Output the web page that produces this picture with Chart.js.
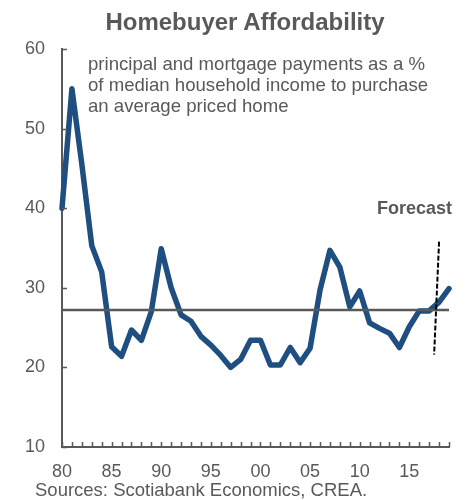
<!DOCTYPE html>
<html>
<head>
<meta charset="utf-8">
<script src="https://cdn.jsdelivr.net/npm/chart.js@4.4.0/dist/chart.umd.min.js"></script>
<style>
  body { margin: 0; background: #fff; }
  #wrap { position: relative; width: 466px; height: 500px; font-family: "Liberation Sans", Arial, sans-serif; color: #595959; }
  #wrap div { position: absolute; white-space: nowrap; }
  #title { left: 0; width: 490px; top: 10px; text-align: center; font-size: 24px; line-height: 24px; font-weight: bold; }
  #note { left: 88px; top: 53px; font-size: 18.6px; line-height: 21px; }
  #forecast { right: 14px; top: 198px; font-size: 18px; line-height: 21px; font-weight: bold; }
  #sources { left: 35px; top: 479px; font-size: 18.5px; line-height: 21px; }
</style>
</head>
<body>
<div id="wrap">
  <canvas id="myChart" width="466" height="500"></canvas>
  <div id="title">Homebuyer Affordability</div>
  <div id="note">principal and mortgage payments as a %<br>of median household income to purchase<br>an average priced home</div>
  <div id="forecast">Forecast</div>
  <div id="sources">Sources: Scotiabank Economics, CREA.</div>
</div>
<script>
var years = [1980, 1981, 1982, 1983, 1984, 1985, 1986, 1987, 1988, 1989,
             1990, 1991, 1992, 1993, 1994, 1995, 1996, 1997, 1998, 1999,
             2000, 2001, 2002, 2003, 2004, 2005, 2006, 2007, 2008, 2009,
             2010, 2011, 2012, 2013, 2014, 2015, 2016, 2017, 2018, 2019];
var affordability = [40, 55, 45.5, 35.3, 32, 22.6, 21.4, 24.7, 23.4, 27,
                     34.9, 30, 26.6, 25.8, 23.9, 22.8, 21.5, 20, 21, 23.4,
                     23.4, 20.3, 20.3, 22.5, 20.6, 22.4, 29.7, 34.7, 32.6, 27.6,
                     29.6, 25.6, 24.9, 24.3, 22.5, 25.1, 27.1, 27.1, 28.2, 29.9];
var average = 27.2;
var forecastX = [2018, 2017.5];
var forecastY = [35.8, 21.6];
var tickYears = [1980, 1985, 1990, 1995, 2000, 2005, 2010, 2015];
var tickLabels = ['80', '85', '90', '95', '00', '05', '10', '15'];
var yTicks = [10, 20, 30, 40, 50, 60];

var grey = '#595959';
Chart.defaults.font.family = '"Liberation Sans", Arial, sans-serif';
Chart.defaults.font.size = 18;
Chart.defaults.color = grey;

// small tick marks pointing into the plot, like the original
var innerTicks = {
  id: 'innerTicks',
  afterDatasetsDraw: function (chart) {
    var ctx = chart.ctx, x = chart.scales.x, y = chart.scales.y;
    ctx.save();
    ctx.strokeStyle = grey;
    ctx.lineWidth = 1.5;
    ctx.beginPath();
    years.forEach(function (yr) {
      var px = Math.round(x.getPixelForValue(yr)) + 0.5;
      ctx.moveTo(px, y.bottom);
      ctx.lineTo(px, y.bottom - 5);
    });
    yTicks.forEach(function (v) {
      var py = Math.round(y.getPixelForValue(v)) + 0.5;
      ctx.moveTo(x.left, py);
      ctx.lineTo(x.left + 5, py);
    });
    ctx.stroke();
    ctx.restore();
  }
};

new Chart('myChart', {
  type: 'line',
  data: {
    datasets: [{
      data: forecastX.map(function (v, i) { return { x: v, y: forecastY[i] }; }),
      borderColor: '#000',
      borderWidth: 2,
      borderDash: [5, 2],
      pointRadius: 0,
      clip: false,
      order: 0
    }, {
      data: [{ x: years[0], y: average }, { x: years[years.length - 1], y: average }],
      borderColor: grey,
      borderWidth: 2.5,
      pointRadius: 0,
      clip: false,
      order: 1
    }, {
      data: years.map(function (yr, i) { return { x: yr, y: affordability[i] }; }),
      borderColor: '#1F4E80',
      borderWidth: 5.5,
      borderJoinStyle: 'round',
      borderCapStyle: 'round',
      pointRadius: 0,
      tension: 0,
      clip: false,
      order: 2
    }]
  },
  options: {
    responsive: false,
    animation: false,
    layout: { padding: { top: 49, right: 17, left: 0, bottom: 0 } },
    plugins: { legend: { display: false }, title: { display: false }, tooltip: { enabled: false } },
    scales: {
      x: {
        type: 'linear',
        min: 1980,
        max: 2019,
        afterFit: function (s) { s.height = 53; },
        afterBuildTicks: function (s) { s.ticks = tickYears.map(function (v) { return { value: v }; }); },
        ticks: {
          padding: 14,
          maxRotation: 0,
          autoSkip: false,
          callback: function (v) { return tickLabels[tickYears.indexOf(v)]; }
        },
        grid: { display: false, tickLength: 0 },
        border: { display: true, color: grey, width: 2 }
      },
      y: {
        min: 10,
        max: 60,
        afterFit: function (s) { s.width = 62; },
        ticks: { stepSize: 10, padding: 17 },
        grid: { display: false, tickLength: 0 },
        border: { display: true, color: grey, width: 2 }
      }
    }
  },
  plugins: [innerTicks]
});
</script>
</body>
</html>
